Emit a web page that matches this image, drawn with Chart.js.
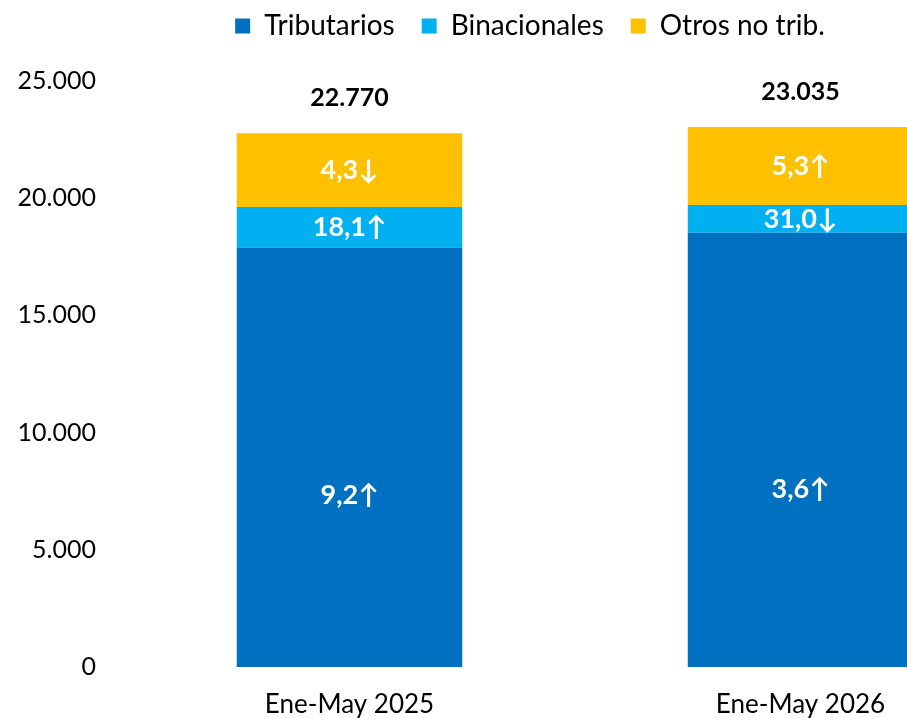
<!DOCTYPE html>
<html>
<head>
<meta charset="utf-8">
<script src="https://cdn.jsdelivr.net/npm/chart.js@4"></script>
<style>
    html, body { margin: 0; padding: 0; background: #fff; overflow: hidden; }
    #wrap { width: 1060px; height: 718px; position: relative; }
</style>
</head>
<body>
<div id="wrap"><canvas id="bar-chart-area"></canvas></div>
<script>
var arrLabel = ["Ene-May 2025", "Ene-May 2026"];
var arrTributarios = [17900, 18530];
var arrBinacionales = [1720, 1180];
var arrOtros = [3150, 3325];
var varTributarios = ["9,2\u2191", "3,6\u2191"];
var varBinacionales = ["18,1\u2191", "31,0\u2193"];
var varOtros = ["4,3\u2193", "5,3\u2191"];

var fontName = "Lato, 'Open Sans', sans-serif";

function formatMiles(n) {
    return String(Math.round(n)).replace(/\B(?=(\d{3})+(?!\d))/g, ".");
}

// labels inside the segments and totals above the bars
var labelPlugin = {
    id: 'barLabels',
    afterDatasetsDraw: function (chart) {
        var ctx = chart.ctx;
        var varLabels = [varTributarios, varBinacionales, varOtros];
        ctx.save();
        ctx.textAlign = 'center';
        ctx.textBaseline = 'middle';
        ctx.font = "bold 27px " + fontName;
        ctx.fillStyle = '#ffffff';
        chart.data.datasets.forEach(function (ds, d) {
            var meta = chart.getDatasetMeta(d);
            meta.data.forEach(function (bar, i) {
                var y;
                if (d === 0) {
                    y = bar.base - 0.41 * (bar.base - bar.y);
                } else {
                    y = (bar.y + bar.base) / 2;
                }
                ctx.fillText(varLabels[d][i], bar.x, y);
            });
        });
        var top = chart.getDatasetMeta(2);
        ctx.font = "bold 25px " + fontName;
        ctx.fillStyle = '#000000';
        top.data.forEach(function (bar, i) {
            var total = arrTributarios[i] + arrBinacionales[i] + arrOtros[i];
            ctx.fillText(formatMiles(total), bar.x, bar.y - 35);
        });
        ctx.restore();
    }
};

// extra room under the legend, legend moved a bit to the right
var legendMargin = {
    id: 'legendMargin',
    beforeInit: function (chart) {
        var fit = chart.legend.fit;
        chart.legend.fit = function () {
            fit.bind(chart.legend)();
            this.height += 31;
        };
    },
    afterLayout: function (chart) {
        chart.legend.left += 17;
        chart.legend.right += 17;
    }
};

document.addEventListener("DOMContentLoaded", renderBar);

function renderBar() {
    var configBar = {
        type: 'bar',
        data: {
            labels: arrLabel,
            datasets: [{
                    label: 'Tributarios',
                    data: arrTributarios,
                    backgroundColor: '#0070C0'
                }, {
                    label: 'Binacionales',
                    data: arrBinacionales,
                    backgroundColor: '#00B0F0'
                }, {
                    label: 'Otros no trib.',
                    data: arrOtros,
                    backgroundColor: '#FFC000'
                }]
        },
        options: {
            responsive: true,
            maintainAspectRatio: false,
            animation: false,
            layout: {
                padding: {top: -15, right: 34, bottom: 0, left: 0}
            },
            datasets: {
                bar: {categoryPercentage: 1, barPercentage: 0.5}
            },
            plugins: {
                tooltip: {enabled: false},
                legend: {
                    position: 'top',
                    labels: {
                        color: '#000',
                        boxWidth: 15,
                        boxHeight: 15,
                        padding: 27,
                        font: {family: fontName, size: 28}
                    }
                }
            },
            scales: {
                x: {
                    stacked: true,
                    grid: {display: false, drawTicks: false},
                    border: {display: false},
                    ticks: {
                        color: '#000',
                        padding: 22,
                        font: {family: fontName, size: 26}
                    },
                    afterFit: function (scale) {
                        scale.height = 51;
                    }
                },
                y: {
                    stacked: true,
                    min: 0,
                    max: 25000,
                    grid: {display: false, drawTicks: false},
                    border: {display: false},
                    ticks: {
                        stepSize: 5000,
                        color: '#000',
                        padding: 28,
                        font: {family: fontName, size: 25},
                        callback: function (v) {
                            return formatMiles(v);
                        }
                    },
                    afterFit: function (scale) {
                        scale.width = 124;
                    }
                }
            }
        },
        plugins: [labelPlugin, legendMargin]
    };
    var ctxBar = document.getElementById("bar-chart-area").getContext("2d");
    var myBar = new Chart(ctxBar, configBar);
}
</script>
</body>
</html>
